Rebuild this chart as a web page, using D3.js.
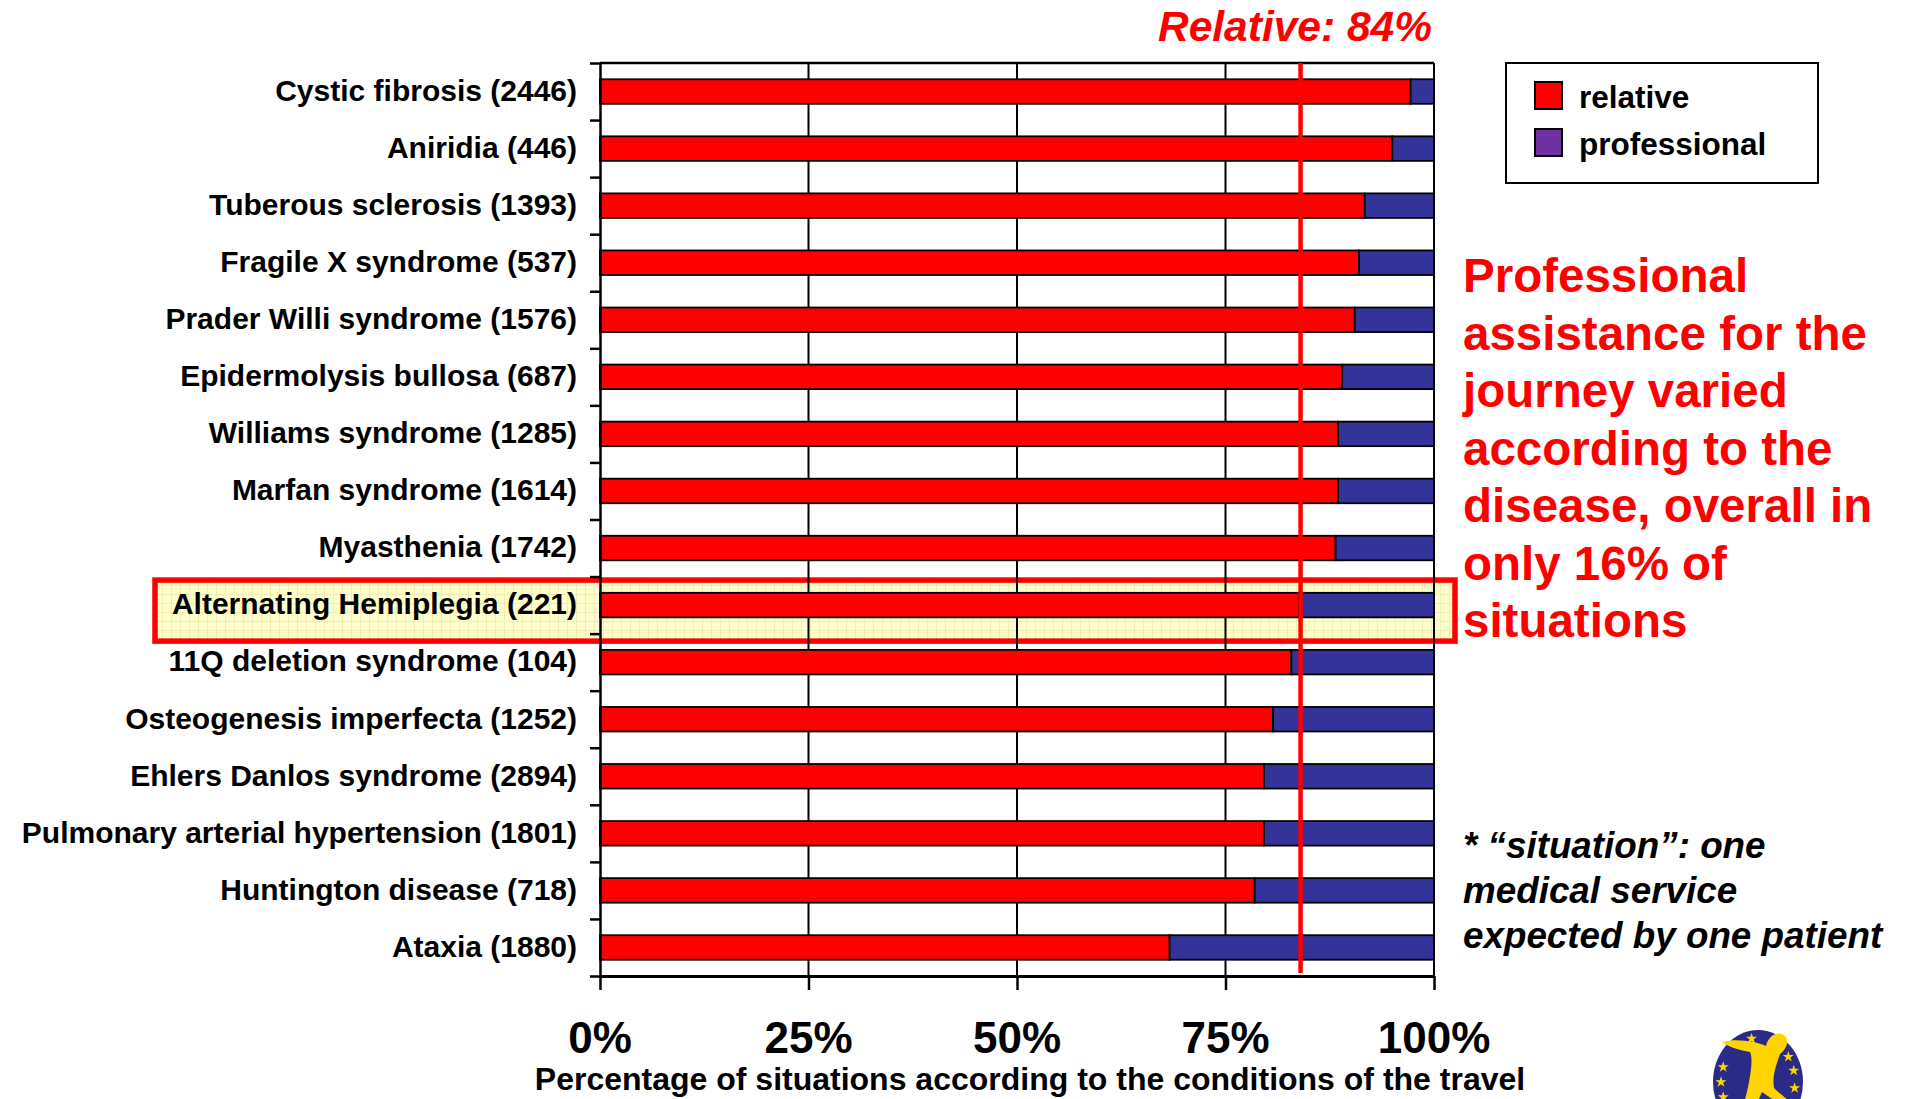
<!DOCTYPE html>
<html>
<head>
<meta charset="utf-8">
<script src="https://cdn.jsdelivr.net/npm/d3@7"></script>
<style>
  body { margin: 0; background: #ffffff; }
  svg { display: block; }
  text { font-family: "Liberation Sans", Arial, Helvetica, sans-serif; font-weight: bold; }
</style>
</head>
<body>
<svg id="chart" width="1906" height="1099"></svg>
<script>
// Diseases, with the number of situations in brackets
const diseases = [
  "Cystic fibrosis", "Aniridia", "Tuberous sclerosis", "Fragile X syndrome",
  "Prader Willi syndrome", "Epidermolysis bullosa", "Williams syndrome", "Marfan syndrome",
  "Myasthenia", "Alternating Hemiplegia", "11Q deletion syndrome", "Osteogenesis imperfecta",
  "Ehlers Danlos syndrome", "Pulmonary arterial hypertension", "Huntington disease", "Ataxia"
];
const situationCounts = [2446, 446, 1393, 537, 1576, 687, 1285, 1614, 1742, 221, 104, 1252, 2894, 1801, 718, 1880];

// Share of situations (%) by who assisted the journey
const relativeShare     = [97.2, 95.0, 91.7, 91.0, 90.5, 89.0, 88.5, 88.5, 88.2, 83.8, 82.9, 80.7, 79.6, 79.6, 78.5, 68.3];
const professionalShare = [ 2.8,  5.0,  8.3,  9.0,  9.5, 11.0, 11.5, 11.5, 11.8, 16.2, 17.1, 19.3, 20.4, 20.4, 21.5, 31.7];

const seriesKeys = ["relative", "professional"];
const barColors = ["#ff0000", "#333399"];
const legendColors = ["#ff0000", "#7030a0"];
const xTicks = [0, 25, 50, 75, 100];

const overallRelative = 84;          // overall share of relatives (reference line)
const highlighted = "Alternating Hemiplegia";

const noteLines = [
  "Professional", "assistance for the", "journey varied", "according to the",
  "disease, overall in", "only 16% of", "situations"
];
const footnoteLines = ["* \u201csituation\u201d: one", "medical service", "expected by one patient"];
const xTitle = "Percentage of situations according to the conditions of the travel";

// ---- layout ----
const plot = { left: 600, right: 1434, top: 63, bottom: 976 };

const svg = d3.select("#chart");

const rows = diseases.map((d, i) => ({
  disease: d,
  count: situationCounts[i],
  relative: relativeShare[i],
  professional: professionalShare[i]
}));

const x = d3.scaleLinear().domain([0, 100]).range([plot.left, plot.right]);
const y = d3.scaleBand().domain(diseases).range([plot.top, plot.bottom])
  .paddingInner(0.57).paddingOuter(0.285);
const yEdge = d3.scaleLinear().domain([0, diseases.length]).range([plot.top, plot.bottom]);
const color = d3.scaleOrdinal().domain(seriesKeys).range(barColors);

// soft grid texture for the highlight box
const defs = svg.append("defs");
const pat = defs.append("pattern").attr("id", "hl").attr("width", 9).attr("height", 9)
  .attr("patternUnits", "userSpaceOnUse");
pat.append("rect").attr("width", 9).attr("height", 9).attr("fill", "#ffffcc");
pat.append("path").attr("d", "M0 0.5H9M0.5 0V9").attr("stroke", "#f1eeb4").attr("stroke-width", 1);

// highlight box around the row of interest
const hi = diseases.indexOf(highlighted);
svg.append("rect")
  .attr("x", 155)
  .attr("y", yEdge(hi) + 3.5)
  .attr("width", 1300)
  .attr("height", yEdge(hi + 1) - yEdge(hi) + 4)
  .attr("fill", "url(#hl)")
  .attr("stroke", "#ff0000")
  .attr("stroke-width", 5.5);

// vertical gridlines
svg.append("g").selectAll("line")
  .data(xTicks.filter(t => t > 0))
  .join("line")
  .attr("x1", d => x(d)).attr("x2", d => x(d))
  .attr("y1", plot.top).attr("y2", plot.bottom)
  .attr("stroke", "#000").attr("stroke-width", 2);

// top frame line
svg.append("line")
  .attr("x1", x(0)).attr("x2", x(100))
  .attr("y1", plot.top).attr("y2", plot.top)
  .attr("stroke", "#000").attr("stroke-width", 2.5);

// stacked bars
const stacked = d3.stack().keys(seriesKeys)(rows);
svg.append("g").selectAll("g")
  .data(stacked)
  .join("g")
  .attr("fill", d => color(d.key))
  .selectAll("rect")
  .data(d => d)
  .join("rect")
  .attr("x", d => x(d[0]))
  .attr("y", d => y(d.data.disease))
  .attr("width", d => x(d[1]) - x(d[0]))
  .attr("height", y.bandwidth())
  .attr("stroke", "#000")
  .attr("stroke-width", 1.8);

// left axis: ticks at the row boundaries
svg.append("g")
  .attr("transform", `translate(${plot.left},0)`)
  .call(d3.axisLeft(yEdge).tickValues(d3.range(0, diseases.length + 1)).tickFormat("").tickSize(10).tickSizeOuter(0))
  .call(g => g.selectAll("line").attr("stroke", "#000").attr("stroke-width", 2.5))
  .call(g => g.select(".domain").attr("stroke", "#000").attr("stroke-width", 2.5));

// bottom axis
svg.append("g")
  .attr("transform", `translate(0,${plot.bottom})`)
  .call(d3.axisBottom(x).tickValues(xTicks).tickFormat("").tickSize(14).tickSizeOuter(0))
  .call(g => g.selectAll("line").attr("stroke", "#000").attr("stroke-width", 2.5))
  .call(g => g.select(".domain").attr("stroke", "#000").attr("stroke-width", 3));

// overall reference line
svg.append("line")
  .attr("x1", x(overallRelative)).attr("x2", x(overallRelative))
  .attr("y1", plot.top).attr("y2", plot.bottom - 3)
  .attr("stroke", "#ff0000").attr("stroke-width", 4.5);

svg.append("text")
  .attr("x", x(100) - 2).attr("y", 41)
  .attr("text-anchor", "end")
  .attr("fill", "#ff0000")
  .attr("font-style", "italic")
  .attr("font-size", 42.5)
  .text(`Relative: ${overallRelative}%`);

// category labels
svg.append("g").selectAll("text")
  .data(rows)
  .join("text")
  .attr("x", 577)
  .attr("y", d => y(d.disease) + y.bandwidth() / 2)
  .attr("dy", "0.31em")
  .attr("text-anchor", "end")
  .attr("font-size", 30)
  .attr("fill", "#000")
  .text(d => `${d.disease} (${d.count})`);

// x tick labels
svg.append("g").selectAll("text")
  .data(xTicks)
  .join("text")
  .attr("x", d => x(d))
  .attr("y", 1053)
  .attr("text-anchor", "middle")
  .attr("font-size", 44)
  .attr("fill", "#000")
  .text(d => `${d}%`);

svg.append("text")
  .attr("x", 1030).attr("y", 1090)
  .attr("text-anchor", "middle")
  .attr("font-size", 32)
  .attr("fill", "#000")
  .text(xTitle);

// legend
const legend = svg.append("g");
legend.append("rect")
  .attr("x", 1506).attr("y", 63).attr("width", 312).attr("height", 120)
  .attr("fill", "#fff").attr("stroke", "#000").attr("stroke-width", 2);
const li = legend.selectAll("g.item")
  .data(seriesKeys)
  .join("g").attr("class", "item")
  .attr("transform", (d, i) => `translate(1535,${82 + i * 47})`);
li.append("rect")
  .attr("width", 27).attr("height", 27)
  .attr("fill", (d, i) => legendColors[i])
  .attr("stroke", "#000").attr("stroke-width", 2);
li.append("text")
  .attr("x", 44).attr("y", 26)
  .attr("font-size", 31.5)
  .attr("fill", "#000")
  .text(d => d);

// annotation text
svg.append("g").selectAll("text")
  .data(noteLines)
  .join("text")
  .attr("x", 1463)
  .attr("y", (d, i) => 292 + i * 57.5)
  .attr("font-size", 47.5)
  .attr("fill", "#ff0000")
  .text(d => d);

svg.append("g").selectAll("text")
  .data(footnoteLines)
  .join("text")
  .attr("x", 1463)
  .attr("y", (d, i) => 858 + i * 45)
  .attr("font-size", 36.8)
  .attr("font-style", "italic")
  .attr("fill", "#000")
  .text(d => d);

// emblem in the lower right corner
const logo = svg.append("g").attr("transform", "translate(1758,1082)");
logo.append("ellipse").attr("rx", 45).attr("ry", 52).attr("fill", "#2b2a86");
const star = d3.symbol().type(d3.symbolStar).size(38);
const starAngles = [-100, -55, -35, -15, 8, 200, 180, 160, 135];
logo.selectAll("path.star")
  .data(starAngles)
  .join("path").attr("class", "star")
  .attr("d", star)
  .attr("fill", "#ffd700")
  .attr("transform", a => {
    const r = a * Math.PI / 180;
    return `translate(${Math.cos(r) * 37},${Math.sin(r) * 44})`;
  });
logo.append("path")
  .attr("d", "M-36,-40 C-20,-44 -2,-40 8,-36 C10,-44 16,-50 24,-48 C32,-45 30,-34 22,-28 C18,-16 14,-6 16,6 C22,12 28,16 32,20 L27,26 C18,20 10,14 4,10 C0,18 -2,26 -4,34 L-18,34 C-14,22 -10,8 -8,-6 C-6,-18 -6,-26 -8,-30 C-18,-32 -28,-34 -36,-40 Z")
  .attr("fill", "#ffd400");
</script>
</body>
</html>
